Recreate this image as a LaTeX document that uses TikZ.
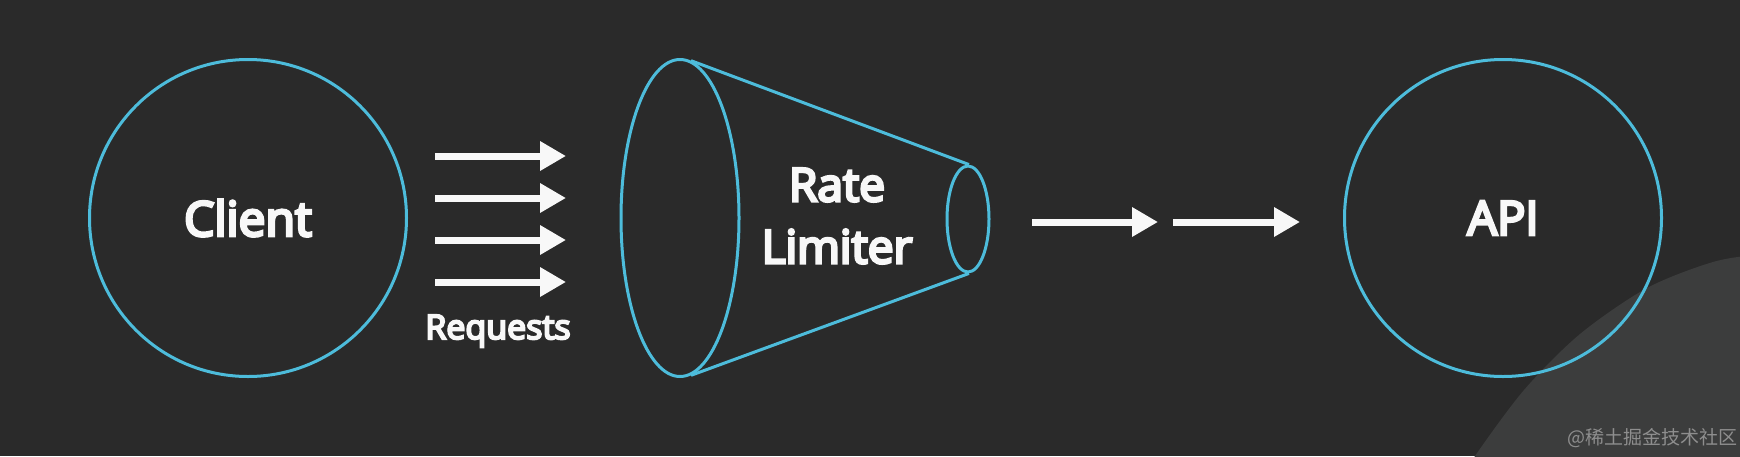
\documentclass[tikz,border=0pt]{standalone}
\usepackage{fontspec}
\setmainfont{Open Sans}
\newfontfamily\semib{Open Sans}[FakeBold=6]
\newfontfamily\cjk{Noto Sans CJK SC}
\usetikzlibrary{arrows.meta,shapes.geometric}
\definecolor{bgc}{HTML}{2A2A2A}
\definecolor{blobc}{HTML}{3C3D3D}
\definecolor{cyanc}{HTML}{4DBCDB}
\definecolor{whitec}{HTML}{F8F8F8}
\definecolor{wmc}{HTML}{8E8E8E}
\tikzset{
  ring/.style={circle, draw=cyanc, line width=3pt, minimum size=317pt, inner sep=0pt, text=whitec},
  oval/.style={ellipse, draw=cyanc, line width=3pt, inner sep=0pt},
  cone/.style={draw=cyanc, line width=3pt},
  flow/.style={draw=whitec, line width=7pt, -{Triangle[length=26pt,width=28pt]}},
  lbl/.style={text=whitec, inner sep=0pt},
}
\begin{document}
\begin{tikzpicture}[x=1pt,y=-1pt]
\useasboundingbox (0,0) rectangle (1740,456);
\fill[bgc] (0,0) rectangle (1740,456);
\begin{scope}
\clip (0,0) rectangle (1740,456);
\fill[blobc] plot[smooth] coordinates {(1455,490) (1475,456) (1524,390) (1580,334) (1647,288) (1713,262) (1760,255) (1800,258)} -- (1800,490) -- cycle;
\end{scope}
% nodes
\node[ring, font=\semib\fontsize{48}{50}\selectfont] (client) at (248,218) {Client};
\node[ring, font=\semib\fontsize{47}{52}\selectfont] (api) at (1503,218) {API};
\node[oval, minimum width=118pt, minimum height=317pt] (big) at (680,218) {};
\node[oval, minimum width=42pt, minimum height=106pt] (small) at (968,219) {};
\draw[cone] (big.86) -- (small.89);
\draw[cone] (big.-86) -- (small.-89);
\node[lbl, align=center, font=\semib\fontsize{46}{62}\selectfont] (rl) at (837,216) {Rate\\Limiter};
\node[lbl, font=\semib\fontsize{34}{38}\selectfont] (req) at (498,331) {Requests};
% request arrows
\foreach \i/\y in {1/156,2/198,3/240,4/282}{
  \coordinate (rs\i) at (435,\y);
  \coordinate (re\i) at (566,\y);
  \draw[flow] (rs\i) -- (re\i);
}
% output arrows
\coordinate (o1s) at (1032,222);
\coordinate (o1e) at (1158,222);
\coordinate (o2s) at (1173,222);
\coordinate (o2e) at (1300,222);
\draw[flow] (o1s) -- (o1e);
\draw[flow] (o2s) -- (o2e);
% watermark
\node[text=wmc, inner sep=0pt, font=\cjk\fontsize{19}{22}\selectfont] (wm) at (1652,438) {@稀土掘金技术社区};
\end{tikzpicture}
\end{document}
